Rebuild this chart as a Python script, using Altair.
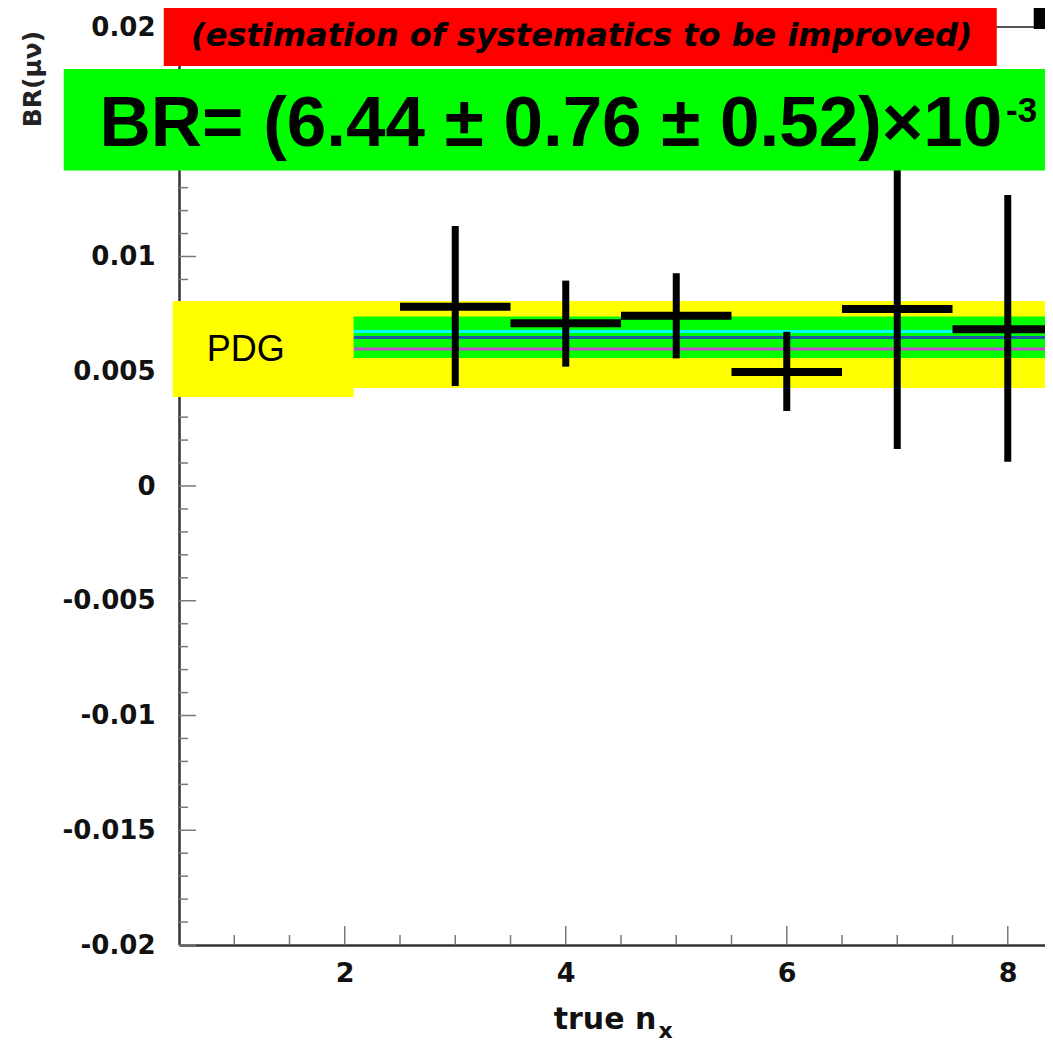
import altair as alt
import pandas as pd

# ---------------- values ----------------
nx = [3, 4, 5, 6, 7, 8]
br = [0.00781, 0.00709, 0.00742, 0.00497, 0.00771, 0.00683]
br_lo = [0.00436, 0.00520, 0.00556, 0.00327, 0.00161, 0.00106]
br_hi = [0.01133, 0.00895, 0.00927, 0.00672, 0.01381, 0.01268]
bin_half_width = 0.5

pdg_band = [0.00427, 0.00806]          # PDG (yellow) band
meas_band = [0.00558, 0.00739]         # measurement (green) band
meas_lines = [0.00673, 0.00647, 0.00597]
meas_line_colors = ["#00ffff", "#1f5aa8", "#c64bd0"]

x_range = [0.5, 8.337]
y_range = [-0.02, 0.02]
x_major = [2, 4, 6, 8]
x_minor = [1, 1.5, 2.5, 3, 3.5, 4.5, 5, 5.5, 6.5, 7, 7.5]
y_major = [-0.02, -0.015, -0.01, -0.005, 0, 0.005, 0.01, 0.015, 0.02]
y_labelled = [-0.02, -0.015, -0.01, -0.005, 0, 0.005, 0.01, 0.02]   # 0.015 is hidden by the green box
y_minor = [-0.019, -0.018, -0.017, -0.016, -0.014, -0.013, -0.012, -0.011,
           -0.009, -0.008, -0.007, -0.006, -0.004, -0.003, -0.002, -0.001,
           0.001, 0.002, 0.003, 0.004, 0.006, 0.007, 0.008, 0.009,
           0.011, 0.012, 0.013, 0.014, 0.016, 0.017, 0.018, 0.019]

result_text = "BR= (6.44 \u00b1 0.76 \u00b1 0.52)\u00d710"
result_exp = "-3"
note_text = "(estimation of systematics to be improved)"
pdg_text = "PDG"
x_title = "true n"
x_title_sub = "x"
y_title = "BR(\u03bc\u03bd)"

W, H = 866, 918

xs = alt.Scale(domain=x_range, nice=False, zero=False)
ys = alt.Scale(domain=y_range, nice=False, zero=False)

x_axis = alt.Axis(values=x_major, ticks=False, tickSize=0, domainColor="#333333",
                  domainWidth=2.5, labelFont="DejaVu Sans", labelFontWeight="bold",
                  labelFontSize=27, labelColor="#111111", labelPadding=15,
                  labelOverlap=False, labelFlush=False, grid=False, title=None, format="d")
y_axis = alt.Axis(values=y_labelled, ticks=False, tickSize=0, domainColor="#333333",
                  domainWidth=2.5, labelFont="DejaVu Sans", labelFontWeight="bold",
                  labelFontSize=26, labelColor="#111111", labelPadding=24,
                  labelOverlap=False, labelFlush=False, grid=False, title=None,
                  labelExpr="replace(format(datum.value, '~g'), '\u2212', '-')")


def X(f):
    return alt.X(f, type="quantitative", scale=xs, axis=x_axis)


def Y(f):
    return alt.Y(f, type="quantitative", scale=ys, axis=y_axis)


# ---- ticks drawn inside the frame (ROOT style) ----
ytm = alt.Chart(pd.DataFrame({"v": y_major})).mark_rule(color="#7a7a7a", strokeWidth=1.5).encode(
    y=Y("v"), x=alt.value(0), x2=alt.value(17))
ytn = alt.Chart(pd.DataFrame({"v": y_minor})).mark_rule(color="#7a7a7a", strokeWidth=1.5).encode(
    y=Y("v"), x=alt.value(0), x2=alt.value(9))
xtm = alt.Chart(pd.DataFrame({"v": x_major})).mark_rule(color="#7a7a7a", strokeWidth=1.5).encode(
    x=X("v"), y=alt.value(H), y2=alt.value(H - 19))
xtn = alt.Chart(pd.DataFrame({"v": x_minor})).mark_rule(color="#7a7a7a", strokeWidth=1.5).encode(
    x=X("v"), y=alt.value(H), y2=alt.value(H - 10))
top_frame = alt.Chart(pd.DataFrame({"v": [y_range[1]]})).mark_rule(color="#555555", strokeWidth=2).encode(
    y=Y("v"), x=alt.value(0), x2=alt.value(W))

# ---- bands ----
bands = pd.DataFrame({
    "x1": [x_range[0], x_range[0]], "x2": [x_range[1] + 0.2, x_range[1] + 0.2],
    "y1": [pdg_band[0], meas_band[0]], "y2": [pdg_band[1], meas_band[1]],
    "c": ["#ffff00", "#00ff00"], "o": [0, 1]})
band_layer = alt.Chart(bands).mark_rect().encode(
    x=X("x1"), x2="x2", y=Y("y1"), y2="y2",
    color=alt.Color("c:N", scale=None), order="o:Q")

lines = pd.DataFrame({"y": meas_lines, "c": meas_line_colors,
                      "x1": [x_range[0]] * 3, "x2": [x_range[1] + 0.2] * 3})
line_layer = alt.Chart(lines).mark_rule(strokeWidth=3).encode(
    y=Y("y"), x=X("x1"), x2="x2", color=alt.Color("c:N", scale=None))

# ---- PDG label box ----
pdg_box = alt.Chart(pd.DataFrame({"x1": [0.443], "x2": [2.08], "y1": [0.00388], "y2": [0.00806]})).mark_rect(
    color="#ffff00").encode(x=X("x1"), x2="x2", y=Y("y1"), y2="y2")
pdg_lbl = alt.Chart(pd.DataFrame({"x": [0.75], "y": [0.00593], "t": [pdg_text]})).mark_text(
    font="Liberation Sans", fontSize=36, align="left", baseline="middle", color="black").encode(
    x=X("x"), y=Y("y"), text="t:N")

# ---- measurements ----
df = pd.DataFrame({"nx": nx, "br": br, "lo": br_lo, "hi": br_hi})
vert = alt.Chart(df).mark_rule(color="black", strokeWidth=7).encode(
    x=X("nx"), y=Y("lo"), y2="hi")
horiz = alt.Chart(df).transform_calculate(
    xl=f"datum.nx - {bin_half_width}", xr=f"datum.nx + {bin_half_width}").mark_rule(
    color="black", strokeWidth=8).encode(x=X("xl:Q"), x2="xr:Q", y=Y("br"))

# ---- slide overlays ----
boxes = pd.DataFrame({
    "x1": [-0.543, 0.362, 8.235], "x2": [8.7, 7.9005, 8.7],
    "y1": [0.013747, 0.0183, 0.019913], "y2": [0.01817, 0.0216, 0.0216],
    "c": ["#00ff00", "#ff0000", "#000000"], "o": [0, 1, 2]})
box_layer = alt.Chart(boxes).mark_rect().encode(
    x=X("x1"), x2="x2", y=Y("y1"), y2="y2", color=alt.Color("c:N", scale=None), order="o:Q")

res_lbl = alt.Chart(pd.DataFrame({"x": [-0.22], "y": [0.014815], "t": [result_text]})).mark_text(
    font="Liberation Sans", fontWeight="bold", fontSize=71, align="left", baseline="alphabetic",
    color="black").encode(x=X("x"), y=Y("y"), text="t:N")
exp_lbl = alt.Chart(pd.DataFrame({"x": [7.985], "y": [0.01586], "t": [result_exp]})).mark_text(
    font="Liberation Sans", fontWeight="bold", fontSize=35, align="left", baseline="alphabetic",
    color="black").encode(x=X("x"), y=Y("y"), text="t:N")
note_lbl = alt.Chart(pd.DataFrame({"x": [4.145], "y": [0.019172], "t": [note_text]})).mark_text(
    font="Comic Sans MS, DejaVu Sans", fontWeight="bold", fontStyle="italic", fontSize=32,
    align="center", baseline="alphabetic", color="black").encode(x=X("x"), y=Y("y"), text="t:N")

xt_lbl = alt.Chart(pd.DataFrame({"x": [3.891], "y": [-0.02366], "t": [x_title]})).mark_text(
    font="DejaVu Sans", fontWeight="bold", fontSize=30, align="left", baseline="alphabetic",
    color="#111111").encode(x=X("x"), y=Y("y"), text="t:N")
xt_sub = alt.Chart(pd.DataFrame({"x": [4.84], "y": [-0.02405], "t": [x_title_sub]})).mark_text(
    font="DejaVu Sans", fontWeight="bold", fontSize=22, align="left", baseline="alphabetic",
    color="#111111").encode(x=X("x"), y=Y("y"), text="t:N")
yt_lbl = alt.Chart(pd.DataFrame({"x": [-0.8235], "y": [0.017734], "t": [y_title]})).mark_text(
    font="DejaVu Sans", fontWeight="bold", fontSize=25, align="center", baseline="middle",
    angle=270, color="#222222").encode(x=X("x"), y=Y("y"), text="t:N")

chart = alt.layer(
    band_layer, line_layer, ytm, ytn, xtm, xtn, top_frame, pdg_box, pdg_lbl,
    vert, horiz, box_layer, res_lbl, exp_lbl, note_lbl, xt_lbl, xt_sub, yt_lbl
).properties(
    width=W, height=H,
    padding={"left": 171, "top": 19, "right": 0, "bottom": 99},
    autosize=alt.AutoSizeParams(type="none"),
    background="white",
).configure_view(stroke=None)

chart.save("out.html", embed_options={"renderer": "svg", "actions": False})
